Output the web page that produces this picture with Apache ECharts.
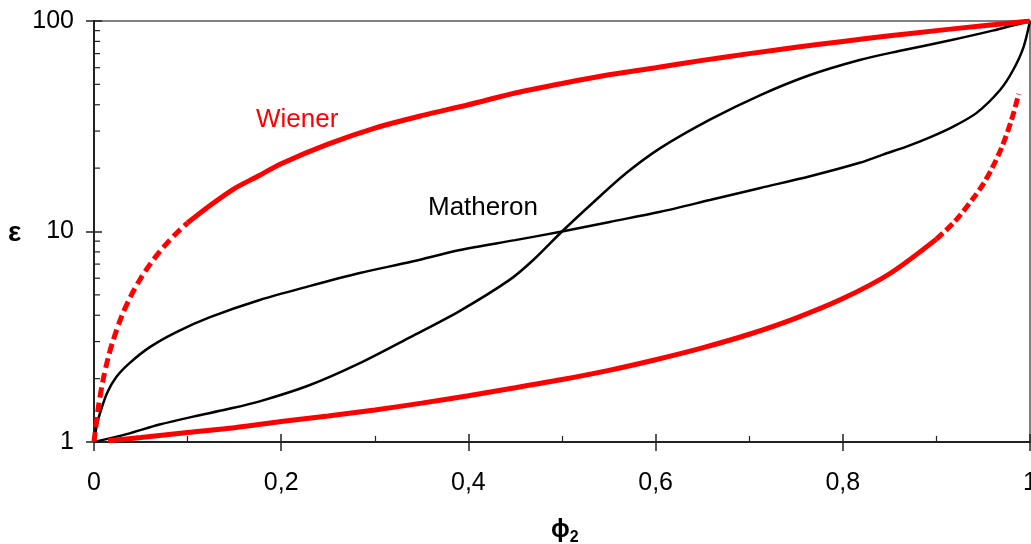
<!DOCTYPE html>
<html>
<head>
<meta charset="utf-8">
<style>
html,body{margin:0;padding:0;background:#fff;}
#chart{width:1031px;height:544px;}
</style>
<script src="https://cdn.jsdelivr.net/npm/echarts@6.0.0/dist/echarts.min.js"></script>
</head>
<body>
<div id="chart"></div>
<script>
// ---- data ----
const xTickLabels = ['0', '0,2', '0,4', '0,6', '0,8', '1'];
const yTickLabels = ['1', '10', '100'];
const yMinorTickValues = [2, 3, 4, 5, 6, 7, 8, 9, 20, 30, 40, 50, 60, 70, 80, 90];

const wienerUpperPhi = [0, 0.005, 0.01, 0.015, 0.02, 0.03, 0.04, 0.05, 0.06, 0.07, 0.08, 0.09, 0.1,
  0.125, 0.15, 0.175, 0.2, 0.25, 0.3, 0.35, 0.4, 0.45, 0.5, 0.55, 0.6, 0.65, 0.7, 0.75, 0.8, 0.85, 0.9, 0.95, 1];
const wienerUpperEps = [1, 1.5, 2, 2.5, 3, 4, 5, 6, 7, 8, 9, 10, 11,
  13.4, 16, 18.3, 21, 26, 31, 35.5, 40, 45.5, 50.5, 55.5, 60, 65, 70, 75, 80, 85, 90, 95, 100];
const wienerUpperDashEnd = 0.1;

const wienerLowerPhi = [0.015, 0.05, 0.1, 0.15, 0.2, 0.25, 0.3, 0.35, 0.4, 0.45, 0.5, 0.55, 0.6, 0.65, 0.7, 0.75,
  0.8, 0.85, 0.9, 0.92, 0.94, 0.95, 0.96, 0.97, 0.98, 0.988];
const wienerLowerEps = [1.015, 1.05, 1.11, 1.17, 1.25, 1.33, 1.42, 1.53, 1.66, 1.81, 1.98, 2.19, 2.46, 2.8, 3.25, 3.88,
  4.8, 6.3, 9.2, 11.2, 14.5, 16.8, 20.2, 25.2, 33.6, 45];
const wienerLowerDashStart = 0.9;

const matheronUpperPhi = [0, 0.003, 0.0064, 0.014, 0.024, 0.038, 0.06, 0.088, 0.124, 0.177, 0.23, 0.284, 0.34, 0.391,
  0.45, 0.5, 0.551, 0.605, 0.658, 0.712, 0.765, 0.818, 0.843, 0.868, 0.893, 0.918, 0.943, 0.968, 0.982, 0.993, 1];
const matheronUpperEps = [1, 1.2, 1.37, 1.71, 2.04, 2.37, 2.83, 3.33, 3.92, 4.73, 5.5, 6.35, 7.2, 8.17,
  9.1, 10, 11.1, 12.4, 14.1, 16.1, 18.3, 21.2, 23.2, 25.3, 28, 31.5, 36.6, 47, 58.5, 75, 100];

const matheronSPhi = [0, 0.035, 0.07, 0.106, 0.142, 0.177, 0.23, 0.284, 0.338, 0.391, 0.444, 0.469, 0.5, 0.533,
  0.569, 0.605, 0.658, 0.712, 0.765, 0.818, 0.86, 0.915, 0.96, 1];
const matheronSEps = [1, 1.09, 1.21, 1.32, 1.43, 1.56, 1.86, 2.37, 3.15, 4.2, 5.89, 7.3, 10, 13.7,
  19, 24.9, 34, 44.5, 55.4, 65.3, 72, 81, 90, 100];

const labelWiener = 'Wiener';
const labelMatheron = 'Matheron';

// ---- helpers ----
function zip(xs, ys) { return xs.map((x, i) => [x, ys[i]]); }
const FONT = "'Liberation Sans', Arial, sans-serif";
const RED = '#ff0000';

const wu = zip(wienerUpperPhi, wienerUpperEps);
const wl = zip(wienerLowerPhi, wienerLowerEps);

const chart = echarts.init(document.getElementById('chart'), null, {renderer: 'canvas'});

const xLabelFmt = v => {
  const idx = Math.round(v / 0.2);
  return xTickLabels[idx] !== undefined ? xTickLabels[idx] : '';
};
const yLabelFmt = v => {
  const idx = Math.round(Math.log10(v));
  return yTickLabels[idx] !== undefined ? yTickLabels[idx] : '';
};

const lineBase = {type: 'line', xAxisIndex: 0, yAxisIndex: 0, showSymbol: false, symbol: 'none',
  smooth: 0.3};

chart.setOption({
  animation: false,
  backgroundColor: '#ffffff',
  grid: {
    left: 94, right: 1, top: 21, bottom: 102,
    containLabel: false, outerBoundsMode: 'none',
    show: true, borderColor: '#808080', borderWidth: 2, backgroundColor: 'transparent'
  },
  xAxis: [
    {
      type: 'value', min: 0, max: 1, interval: 0.2, position: 'bottom',
      axisLine: {show: true, onZero: false, lineStyle: {color: '#222', width: 2}},
      axisTick: {show: true, inside: false, length: 9, lineStyle: {color: '#222', width: 1.5}},
      axisLabel: {show: true, margin: 28, color: '#000', fontSize: 25, fontFamily: FONT, formatter: xLabelFmt, lineHeight: 26,
        showMaxLabel: true, showMinLabel: true},
      splitLine: {show: false}
    },
    {
      type: 'value', min: 0, max: 1, interval: 0.2, position: 'bottom',
      axisLine: {show: false, onZero: false},
      axisTick: {show: true, inside: true, length: 8, lineStyle: {color: '#222', width: 1.5}},
      minorTick: {show: true, splitNumber: 2, length: 6, lineStyle: {color: '#222', width: 1.2}},
      axisLabel: {show: false},
      splitLine: {show: false}
    }
  ],
  yAxis: [
    {
      type: 'log', logBase: 10, min: 1, max: 100, position: 'left',
      axisLine: {show: true, onZero: false, lineStyle: {color: '#222', width: 2}},
      axisTick: {show: true, inside: false, length: 8, lineStyle: {color: '#222', width: 1.5}},
      axisLabel: {show: true, margin: 20, color: '#000', fontSize: 25, fontFamily: FONT, formatter: yLabelFmt},
      splitLine: {show: false}
    },
    {
      type: 'log', logBase: 10, min: 1, max: 100, position: 'left',
      axisLine: {show: false, onZero: false},
      axisTick: {show: true, inside: true, length: 8, lineStyle: {color: '#222', width: 1.5}},
      axisLabel: {show: false},
      splitLine: {show: false}
    }
  ],
  graphic: [
    {type: 'text', left: 8, top: 219, style: {text: 'ε', font: "bold 28px " + FONT, fill: '#000'}},
    {type: 'text', left: 551, top: 518, style: {
      text: '{a|ϕ}{b|2}',
      rich: {
        a: {fontSize: 25, fontWeight: 'bold', fontFamily: FONT, fill: '#000', color: '#000'},
        b: {fontSize: 16, fontWeight: 'bold', fontFamily: FONT, fill: '#000', color: '#000', padding: [14, 0, 0, 0]}
      }
    }},
    {type: 'text', left: 256, top: 107, style: {text: labelWiener, font: "26px " + FONT, fill: RED}},
    {type: 'text', left: 428, top: 195, style: {text: labelMatheron, font: "26px " + FONT, fill: '#000'}}
  ],
  series: [
    {
      type: 'custom', xAxisIndex: 0, yAxisIndex: 0, silent: true, z: 5,
      data: yMinorTickValues.map(v => [0, v]),
      renderItem: (params, api) => {
        const p = api.coord([0, api.value(1)]);
        return {type: 'line', shape: {x1: p[0], y1: p[1], x2: p[0] + 6, y2: p[1]},
          style: {stroke: '#222', lineWidth: 1.2}};
      }
    },
    Object.assign({}, lineBase, {
      name: 'Matheron upper', data: zip(matheronUpperPhi, matheronUpperEps),
      lineStyle: {color: '#000', width: 2.5}, z: 3
    }),
    Object.assign({}, lineBase, {
      name: 'Matheron S', data: zip(matheronSPhi, matheronSEps),
      lineStyle: {color: '#000', width: 2.5}, z: 3
    }),
    Object.assign({}, lineBase, {
      name: 'Wiener upper dashed', data: wu.filter(d => d[0] <= wienerUpperDashEnd + 1e-9),
      lineStyle: {color: RED, width: 5, type: [10, 5], cap: 'butt'}, z: 4
    }),
    Object.assign({}, lineBase, {
      name: 'Wiener upper', data: wu.filter(d => d[0] >= wienerUpperDashEnd - 1e-9),
      lineStyle: {color: RED, width: 5}, z: 4
    }),
    Object.assign({}, lineBase, {
      name: 'Wiener lower', data: wl.filter(d => d[0] <= wienerLowerDashStart + 1e-9),
      lineStyle: {color: RED, width: 5}, z: 4
    }),
    Object.assign({}, lineBase, {
      name: 'Wiener lower dashed', data: wl.filter(d => d[0] >= wienerLowerDashStart - 1e-9),
      lineStyle: {color: RED, width: 5, type: [9, 4], cap: 'butt'}, z: 4
    })
  ]
});
</script>
</body>
</html>
